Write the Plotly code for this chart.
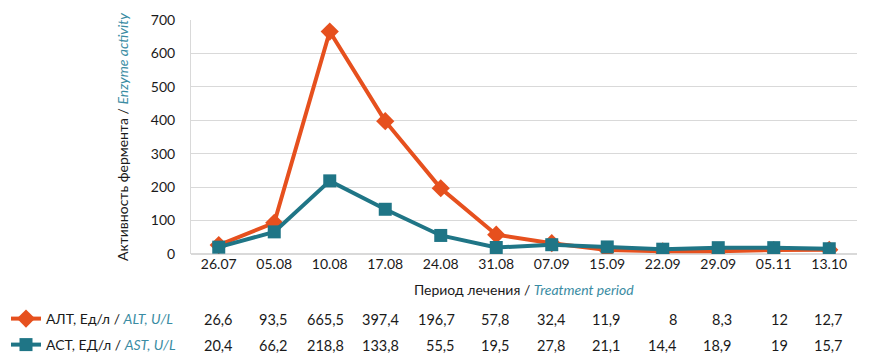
import plotly.graph_objects as go

categories = ["26.07", "05.08", "10.08", "17.08", "24.08", "31.08", "07.09",
              "15.09", "22.09", "29.09", "05.11", "13.10"]
alt_values = [26.6, 93.5, 665.5, 397.4, 196.7, 57.8, 32.4, 11.9, 8, 8.3, 12, 12.7]
ast_values = [20.4, 66.2, 218.8, 133.8, 55.5, 19.5, 27.8, 21.1, 14.4, 18.9, 19, 15.7]
y_ticks = [0, 100, 200, 300, 400, 500, 600, 700]

ORANGE = "#E6501E"
TEAL = "#1F7586"
ITAL = "#3A8CA3"
TXT = "#1a1a1a"
FONT = "Lato"

W, H = 875, 361
L, R, T, B = 191, 18, 20, 107
plot_h = H - T - B
plot_w = W - L - R

def fmt(v):
    return ("%g" % v).replace(".", ",")

def py(pixel_y):
    return (H - B - pixel_y) / plot_h

def px(pixel_x):
    return (pixel_x - L) / plot_w

fig = go.Figure()
fig.add_trace(go.Scatter(
    x=categories, y=alt_values, mode="lines+markers",
    name='АЛТ, Ед/л / <i><span style="color:%s">ALT, U/L</span></i>' % ITAL,
    line=dict(color=ORANGE, width=4),
    marker=dict(symbol="diamond", size=14, color=ORANGE),
    legend="legend"))
fig.add_trace(go.Scatter(
    x=categories, y=ast_values, mode="lines+markers",
    name='АСТ, ЕД/л / <i><span style="color:%s">AST, U/L</span></i>' % ITAL,
    line=dict(color=TEAL, width=4),
    marker=dict(symbol="square", size=13, color=TEAL),
    legend="legend2"))

annotations = []
for i, (a, s) in enumerate(zip(alt_values, ast_values)):
    for val, yy in ((a, 319), (s, 345)):
        annotations.append(dict(
            x=i, xref="x", y=py(yy), yref="paper", text=fmt(val),
            showarrow=False, xanchor="right", yanchor="middle", xshift=16,
            font=dict(family=FONT, size=14.5, color=TXT)))
annotations.append(dict(
    x=0.5, xref="paper", y=py(289), yref="paper",
    text='Период лечения / <i><span style="color:%s">Treatment period</span></i>' % ITAL,
    showarrow=False, xanchor="center", yanchor="middle",
    font=dict(family=FONT, size=14, color=TXT)))

leg_common = dict(xanchor="left", yanchor="middle", yref="paper", xref="paper",
                  bgcolor="rgba(0,0,0,0)", font=dict(family=FONT, size=14, color=TXT),
                  itemwidth=30)
fig.update_layout(
    width=W, height=H,
    margin=dict(l=L, r=R, t=T, b=B, autoexpand=False),
    paper_bgcolor="white", plot_bgcolor="white",
    font=dict(family=FONT, size=14, color=TXT),
    annotations=annotations,
    legend=dict(x=px(6), y=py(319), **leg_common),
    legend2=dict(x=px(6), y=py(345), **leg_common),
    showlegend=True,
)
fig.update_xaxes(type="category", showgrid=False, showline=False, ticks="",
                 tickfont=dict(family=FONT, size=14, color=TXT), zeroline=False,
                 range=[-0.5, len(categories) - 0.5], automargin=False)
fig.update_yaxes(range=[0, 700], tickvals=y_ticks, showgrid=True, gridcolor="#d9d9d9",
                 gridwidth=1, zeroline=True, zerolinecolor="#d9d9d9", showline=True,
                 linecolor="#d9d9d9", linewidth=1, ticks="", ticklabelstandoff=12,
                 automargin=False,
                 tickfont=dict(family=FONT, size=14, color=TXT),
                 title=dict(text='Активность фермента / <i><span style="color:%s">Enzyme activity</span></i>' % ITAL,
                            font=dict(family=FONT, size=14, color=TXT), standoff=18))

fig.write_html("out.html", config={"displayModeBar": False},
               post_script="document.body.style.margin='0';document.body.style.overflow='hidden';")
